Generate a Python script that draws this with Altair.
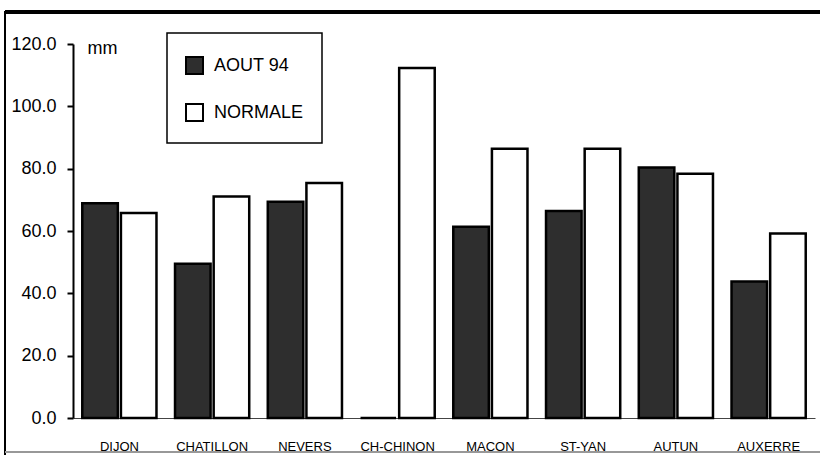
import altair as alt
import pandas as pd

# Rainfall in August 1994 vs. the normal, by station (mm)
stations = ["DIJON", "CHATILLON", "NEVERS", "CH-CHINON", "MACON", "ST-YAN", "AUTUN", "AUXERRE"]
aout_94 = [68.9, 49.5, 69.4, 0.0, 61.4, 66.4, 80.4, 43.8]
normale = [65.8, 71.1, 75.4, 112.3, 86.4, 86.4, 78.4, 59.2]
series = ["AOUT 94", "NORMALE"]

rows = []
for s, a, n in zip(stations, aout_94, normale):
    rows.append({"station": s, "serie": series[0], "mm": a})
    rows.append({"station": s, "serie": series[1], "mm": n})
df = pd.DataFrame(rows)

FONT = "Liberation Sans"
W, H = 742, 374

bars = alt.Chart(df).mark_bar(stroke="black", strokeWidth=2.5).encode(
    x=alt.X("station:N", sort=stations, title=None,
            scale=alt.Scale(paddingInner=0.2, paddingOuter=0.1),
            axis=alt.Axis(labelAngle=0, ticks=False, labelPadding=22,
                          labelFontSize=13, labelFont=FONT, labelColor="black",
                          domainColor="#444", domainWidth=1)),
    xOffset=alt.XOffset("serie:N", sort=series, scale=alt.Scale(paddingInner=0.08)),
    y=alt.Y("mm:Q", scale=alt.Scale(domain=[0, 120], nice=False),
            axis=alt.Axis(values=[0, 20, 40, 60, 80, 100, 120], format=".1f",
                          grid=False, tickSize=6, tickWidth=2, tickColor="black",
                          domainColor="black", domainWidth=2,
                          labelFontSize=18, labelFont=FONT, labelColor="black",
                          labelPadding=11,
                          title="mm", titleAngle=0, titleAlign="left",
                          titleBaseline="alphabetic", titleX=14, titleY=9,
                          titleFontSize=18, titleFont=FONT, titleFontWeight="normal",
                          titleColor="black")),
    fill=alt.Fill("serie:N", sort=series,
                  scale=alt.Scale(domain=series, range=["#2e2e2e", "#ffffff"]),
                  legend=alt.Legend(title=" ", titleFontSize=1, titlePadding=4,
                                    orient="none", legendX=94, legendY=-11,
                                    direction="vertical", symbolType="square",
                                    symbolSize=289, symbolStrokeColor="black",
                                    symbolStrokeWidth=2, labelFontSize=18,
                                    labelFont=FONT, labelColor="black", labelOffset=10,
                                    rowPadding=22, padding=18,
                                    strokeColor="black")),
)

# page frame around the whole figure
frame_top = alt.Chart(df).mark_rule(color="black", strokeWidth=3).encode(
    x=alt.value(-68), x2=alt.value(760), y=alt.value(-32))
frame_left = alt.Chart(df).mark_rule(color="black", strokeWidth=2).encode(
    x=alt.value(-68), y=alt.value(-33), y2=alt.value(420))
frame_bottom = alt.Chart(df).mark_rule(color="#999", strokeWidth=1.5).encode(
    x=alt.value(-68), x2=alt.value(760), y=alt.value(408))

chart = alt.layer(bars, frame_top, frame_left, frame_bottom).properties(
    width=W, height=H,
    autosize=alt.AutoSizeParams(type="none"),
    padding={"left": 73, "top": 44, "right": 5, "bottom": 37},
).configure(
    background="white",
    view=alt.ViewConfig(stroke="transparent"),
    legend=alt.LegendConfig(strokeWidth=1.5),
)

chart.save("out.html", embed_options={"renderer": "svg", "actions": False})
